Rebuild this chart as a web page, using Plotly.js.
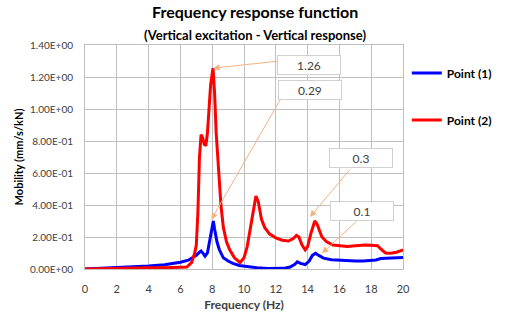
<!DOCTYPE html>
<html><head><meta charset="utf-8">
<script src="https://cdn.plot.ly/plotly-3.0.1.min.js"></script>
<style>html,body{margin:0;padding:0;background:#fff}#c{width:506px;height:316px}</style>
</head><body><div id="c"></div>
<script>
const freq1 = [0,0.5,1,2,3,4,5,5.5,6,6.5,6.8,7,7.2,7.3,7.45,7.55,7.7,7.85,8,8.07,8.15,8.3,8.45,8.7,9,9.3,9.7,10.2,10.8,11.5,12,12.5,12.9,13.2,13.35,13.55,13.85,14.1,14.3,14.5,14.7,15,15.5,16,16.5,17,17.5,18,18.3,18.6,19,19.5,20];
const point1 = [0,0.002,0.004,0.008,0.012,0.018,0.026,0.032,0.042,0.055,0.072,0.085,0.105,0.112,0.095,0.08,0.1,0.18,0.28,0.30,0.25,0.17,0.12,0.07,0.05,0.035,0.022,0.014,0.008,0.003,0.002,0.004,0.012,0.03,0.045,0.035,0.028,0.05,0.085,0.098,0.085,0.068,0.058,0.054,0.052,0.05,0.05,0.052,0.056,0.065,0.067,0.068,0.072];
const freq2 = [0,1,2,3,4,5,6,6.4,6.7,6.9,7,7.1,7.2,7.3,7.4,7.5,7.6,7.7,7.8,7.9,8.05,8.15,8.25,8.4,8.55,8.7,8.9,9.1,9.4,9.75,10,10.2,10.4,10.6,10.75,10.9,11.1,11.3,11.6,12,12.4,12.8,13.1,13.3,13.45,13.65,13.85,14,14.2,14.45,14.6,14.9,15.2,15.6,16,16.5,17,17.6,18,18.4,18.6,18.9,19.2,19.6,20];
const point2 = [0,0.003,0.005,0.007,0.008,0.008,0.008,0.012,0.04,0.1,0.15,0.35,0.7,0.84,0.82,0.78,0.77,0.85,1.0,1.15,1.255,1.1,0.85,0.6,0.4,0.26,0.17,0.12,0.07,0.04,0.07,0.14,0.25,0.38,0.456,0.42,0.31,0.26,0.22,0.195,0.18,0.175,0.19,0.21,0.2,0.15,0.12,0.14,0.22,0.30,0.28,0.2,0.17,0.15,0.145,0.14,0.145,0.15,0.148,0.145,0.125,0.1,0.098,0.105,0.12];
const seriesNames = ['Point (1)','Point (2)'];
const yTickVals = [0,0.2,0.4,0.6,0.8,1.0,1.2,1.4];
const yTickText = ['0.00E+00','2.00E-01','4.00E-01','6.00E-01','8.00E-01','1.00E+00','1.20E+00','1.40E+00'];
const xTickVals = [0,2,4,6,8,10,12,14,16,18,20];
// callouts: label, target point, box center, arrow tail
const callLabels = ['1.26','0.29','0.3','0.1'];
const callTargetX = [8.05,7.95,14.15,14.9];
const callTargetY = [1.255,0.31,0.325,0.098];
const callBoxX = [14.09,14.15,17.33,17.42];
const callBoxY = [1.278,1.12,0.694,0.3625];
const callTailX = [12.7,12.75,16.73,17.17];
const callTailY = [1.305,1.14,0.63,0.307];

const FONT = 'Lato, "Open Sans", sans-serif';
const traces = [
  {x: freq1, y: point1, name: seriesNames[0], mode:'lines', line:{color:'#0000ff', width:3}, legendgroup:'a'},
  {x: freq2, y: point2, name: seriesNames[1], mode:'lines', line:{color:'#ff0000', width:3}, legendgroup:'b'}
];
const ann = [];
for (let i=0;i<callLabels.length;i++){
  ann.push({x:callTargetX[i], y:callTargetY[i], xref:'x', yref:'y', axref:'x', ayref:'y', ax:callTailX[i], ay:callTailY[i], text:'', showarrow:true, arrowhead:2, arrowsize:1.3, arrowwidth:1, arrowcolor:'#f4b183'});
  ann.push({x:callBoxX[i], y:callBoxY[i], xref:'x', yref:'y', text:callLabels[i], showarrow:false, width:58, height:14, bgcolor:'#ffffff', bordercolor:'#d0d0d0', borderwidth:1, borderpad:2, font:{family:FONT, size:12, color:'#404040'}});
}
ann.push({x:0.535, y:1.0, xref:'paper', yref:'paper', xanchor:'center', yanchor:'bottom', yshift:0, text:'<b>(Vertical excitation - Vertical response)</b>', showarrow:false, font:{family:FONT, size:13, color:'#000'}});
const layout = {
  width:506, height:316,
  margin:{l:85, r:103, t:45, b:47, autoexpand:false},
  paper_bgcolor:'#fff', plot_bgcolor:'#fff',
  title:{text:'<b>Frequency response function</b>', x:0.535, xref:'paper', xanchor:'center', y:0.98, yref:'container', yanchor:'top', font:{family:FONT, size:16, color:'#000'}},
  xaxis:{range:[0,20], tickvals:xTickVals, gridcolor:'#c0c0c0', gridwidth:1, showline:true, linecolor:'#bfbfbf', mirror:true, zeroline:false, ticks:'', ticklabelstandoff:10, tickfont:{family:FONT, size:11, color:'#404040'}, title:{text:'<b>Frequency (Hz)</b>', font:{family:FONT, size:12, color:'#404040'}, standoff:6}},
  yaxis:{range:[0,1.4], tickvals:yTickVals, ticktext:yTickText, gridcolor:'#c0c0c0', gridwidth:1, showline:true, linecolor:'#bfbfbf', mirror:true, zeroline:false, ticks:'outside', ticklen:9, tickcolor:'rgba(0,0,0,0)', tickfont:{family:FONT, size:10, color:'#404040'}, title:{text:'<b>Mobility (mm/s/kN)</b>', font:{family:FONT, size:11, color:'#000'}, standoff:4}},
  legend:{x:1.012, xanchor:'left', y:0.94, yanchor:'top', traceorder:'grouped', tracegroupgap:28, font:{family:FONT, size:12, color:'#000', weight:'bold'}, itemwidth:30, bgcolor:'rgba(0,0,0,0)'},
  annotations: ann,
  showlegend:true
};
Plotly.newPlot('c', traces, layout, {displayModeBar:false, staticPlot:true});
</script></body></html>
